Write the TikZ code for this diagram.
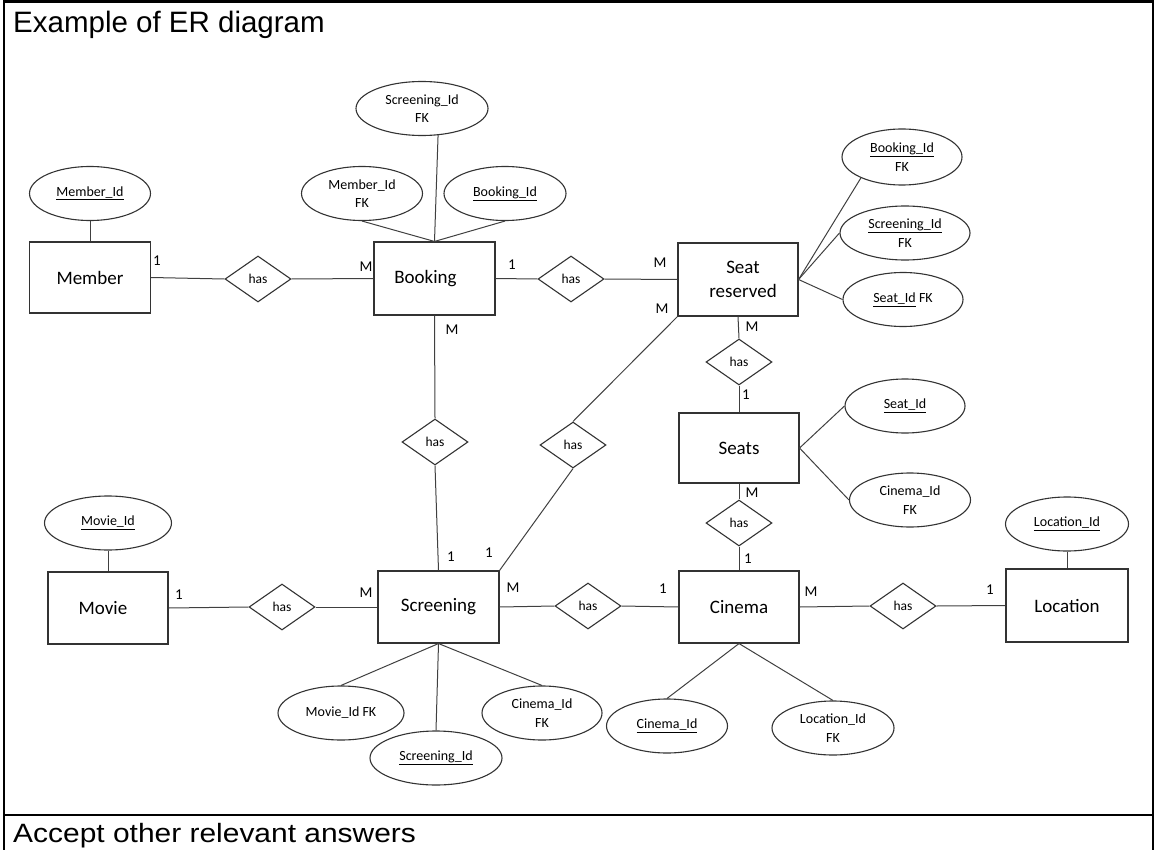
\documentclass[tikz,border=0pt]{standalone}
\usepackage{fontspec}
\usepackage{graphicx}
\setmainfont{Carlito}
\newfontfamily\headfont{Liberation Sans}
\usetikzlibrary{shapes.geometric}

\begin{document}
\begin{tikzpicture}[x=1pt,y=-1pt,
  entity/.style={draw=black!80, line width=1.1pt, minimum width=120pt, minimum height=72pt,
    inner sep=0pt, font=\fontsize{19}{23.5}\selectfont, align=center},
  attr/.style={ellipse, draw=black!80, line width=1.1pt, inner sep=0pt,
    font=\fontsize{14}{18.5}\selectfont, align=center, minimum width=121pt, minimum height=54pt},
  rel/.style={diamond, draw=black!80, line width=1.1pt, inner sep=0pt,
    minimum width=66pt, minimum height=46pt, font=\fontsize{13.5}{16}\selectfont},
  card/.style={inner sep=0pt, font=\fontsize{15}{18}\selectfont},
  link/.style={draw=black!75, line width=1pt},
  frame/.style={line width=2.7pt, black}]

\useasboundingbox (0,0) rectangle (1155,850);

% table frame
\draw[frame] (4,852) -- (4,1.5) -- (1153,1.5) -- (1153,852);
\draw[frame] (4,815) -- (1153,815);

\node[anchor=base west, inner sep=0pt, font=\headfont\fontsize{29.5}{30}\selectfont] (title) at (13,33) {Example of ER diagram};
\node[anchor=base west, inner sep=0pt, font=\headfont\fontsize{26.5}{28}\selectfont] (note) at (13,842) {\scalebox{1.13}[1]{Accept other relevant answers}};

% entities
\node[entity, minimum width=121pt, minimum height=71pt] (member) at (90,277.5) {Member};
\node[entity, minimum width=121pt, minimum height=73pt] (booking) at (434.5,278.5) {Booking\hspace*{18pt}};
\node[entity, minimum height=73pt] (seatres) at (738,279.5) {\hspace*{10pt}Seat\\\hspace*{10pt}reserved};
\node[entity, minimum height=70pt] (seats) at (739,448) {Seats};
\node[entity] (movie) at (108,608) {Movie\hspace*{10pt}};
\node[entity, minimum width=121pt] (screening) at (438.5,607) {Screening};
\node[entity] (cinema) at (739,607) {Cinema};
\node[entity, minimum width=122pt, minimum height=73pt] (location) at (1067,605.5) {Location};

% attributes
\node[attr] (memberid) at (90,193.5) {\underline{Member\_Id}};
\node[attr] (memberfk) at (362,193.5) {Member\_Id\\FK};
\node[attr, minimum width=122pt] (bookingid) at (505,193.5) {\underline{Booking\_Id}};
\node[attr, minimum width=132pt] (screenfk) at (422,108.5) {Screening\_Id\\FK};
\node[attr, minimum width=120pt, minimum height=56pt] (bookfk) at (902,157) {\underline{Booking\_Id}\\FK};
\node[attr, minimum width=130pt] (screenfk2) at (905,233) {\underline{Screening\_Id}\\FK};
\node[attr, minimum width=120pt] (seatfk) at (903,299.5) {\underline{Seat\_Id} FK};
\node[attr, minimum width=120pt] (seatid) at (905,406) {\underline{Seat\_Id}};
\node[attr] (cinemafk1) at (910,500) {Cinema\_Id\\FK};
\node[attr, minimum width=123pt] (locid) at (1067,524) {\underline{Location\_Id}};
\node[attr, minimum width=127pt] (movieid) at (108,523) {\underline{Movie\_Id}};
\node[attr, minimum width=126pt] (moviefk) at (341,713) {Movie\_Id FK};
\node[attr, minimum width=132pt] (screenid) at (436,758) {\underline{Screening\_Id}};
\node[attr, minimum width=120pt] (cinemafk2) at (542,713) {Cinema\_Id\\FK};
\node[attr] (cinemaid) at (667,726) {\underline{Cinema\_Id}};
\node[attr, minimum width=122pt] (locfk) at (833,728) {Location\_Id\\FK};

% relationships
\node[rel] (r1) at (258,279) {has};
\node[rel] (r2) at (571,279) {has};
\node[rel] (r3) at (435,442) {has};
\node[rel] (r4) at (573,445) {has};
\node[rel] (r5) at (739,362) {has};
\node[rel] (r6) at (739,523) {has};
\node[rel] (r7) at (282,607) {has};
\node[rel] (r8) at (588,606) {has};
\node[rel] (r9) at (903,606) {has};

% attribute links
\draw[link] (memberid.south) -- (member.north);
\draw[link] (memberfk.south) -- (booking.north);
\draw[link] (bookingid.south) -- (booking.north);
\draw[link] (screenfk.301) -- (booking.north);
\draw[link] (bookfk.207) -- (seatres.east);
\draw[link] (screenfk2.west) -- (seatres.east);
\draw[link] (seatfk.west) -- (seatres.east);
\draw[link] (seats.east) -- (seatid.west);
\draw[link] (seats.east) -- (cinemafk1.west);
\draw[link] (locid.south) -- (location.north);
\draw[link] (movieid.south) -- (movie.north);
\draw[link] (screening.south) -- (moviefk.north);
\draw[link] (screening.south) -- (screenid.north);
\draw[link] (screening.south) -- (cinemafk2.north);
\draw[link] (cinema.south) -- (cinemaid.north);
\draw[link] (cinema.south) -- (locfk.north);

% relationship links
\draw[link] (member.east) -- (r1.west);
\draw[link] (r1.east) -- (booking.west);
\draw[link] (booking.east) -- (r2.west);
\draw[link] (r2.east) -- (seatres.west);
\draw[link] (booking.south) -- (r3.north);
\draw[link] (r3.south) -- (screening.north);
\draw[link] (seatres.south west) -- (r4.north);
\draw[link] (r4.south) -- (screening.north east);
\draw[link] (seatres.south) -- (r5.north);
\draw[link] (r5.south) -- (seats.north);
\draw[link] (seats.south) -- (r6.north);
\draw[link] (r6.south) -- (cinema.north);
\draw[link] (movie.east) -- (r7.west);
\draw[link] (r7.east) -- (screening.west);
\draw[link] (screening.east) -- (r8.west);
\draw[link] (r8.east) -- (cinema.west);
\draw[link] (cinema.east) -- (r9.west);
\draw[link] (r9.east) -- (location.west);

% cardinalities
\node[card] (k1) at (157,261) {1};
\node[card] (k2) at (366,267) {M};
\node[card] (k3) at (512,265) {1};
\node[card] (k4) at (660,263) {M};
\node[card] (k5) at (452,330) {M};
\node[card] (k6) at (662,309) {M};
\node[card] (k7) at (752,327) {M};
\node[card] (k8) at (746,395) {1};
\node[card] (k9) at (752,493) {M};
\node[card] (k10) at (748,559) {1};
\node[card] (k11) at (179,595) {1};
\node[card] (k12) at (366,593) {M};
\node[card] (k13) at (451,557) {1};
\node[card] (k14) at (489,553) {1};
\node[card] (k15) at (513,588) {M};
\node[card] (k16) at (663,589) {1};
\node[card] (k17) at (811,592) {M};
\node[card] (k18) at (990,590) {1};
\end{tikzpicture}
\end{document}
